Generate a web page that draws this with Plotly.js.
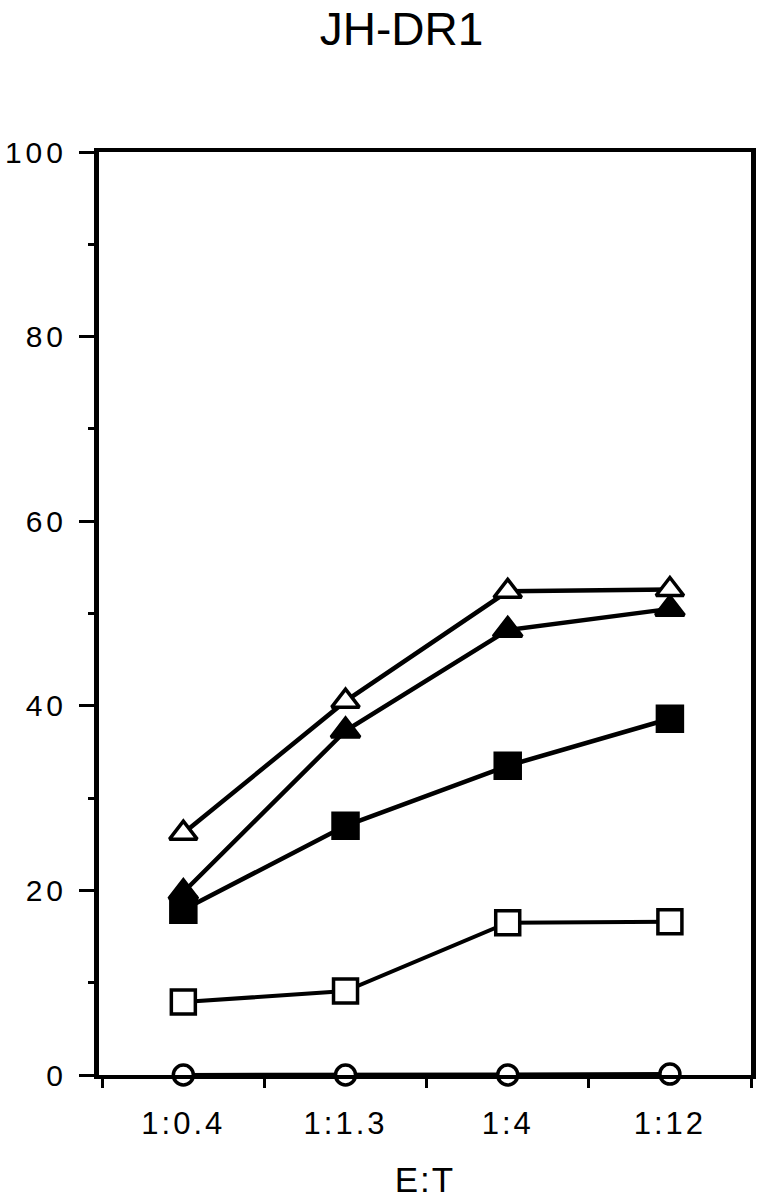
<!DOCTYPE html>
<html>
<head>
<meta charset="utf-8">
<script src="https://cdn.plot.ly/plotly-3.0.1.min.js"></script>
<style>
html,body{margin:0;padding:0;background:#fff;}
#chart{width:759px;height:1199px;}
#chart .xtick text{letter-spacing:3px;}
#chart .ytick text{letter-spacing:4px;}
#chart .g-xtitle text{letter-spacing:2px;}
</style>
</head>
<body>
<div id="chart"></div>
<script>
var categories = ["1:0.4", "1:1.3", "1:4", "1:12"];
var openCircle = [0.0, 0.0, 0.0, 0.1];
var openSquare = [7.9, 9.1, 16.5, 16.6];
var filledSquare = [17.9, 27.0, 33.5, 38.6];
var filledTriangle = [19.8, 37.3, 48.2, 50.5];
var openTriangle = [26.2, 40.5, 52.4, 52.6];
var yTickVals = [0, 20, 40, 60, 80, 100];

function series(y, symbol, fill, size, lw) {
  return {
    x: categories, y: y, type: "scatter", mode: "lines+markers",
    cliponaxis: false,
    line: {color: "#000", width: lw},
    marker: {symbol: symbol, size: size, color: fill, line: {color: "#000", width: 3.5}},
    showlegend: false, hoverinfo: "skip"
  };
}

var data = [
  series(openCircle, "circle", "#fff", 20, 4),
  series(openSquare, "square", "#fff", 24, 4),
  series(filledSquare, "square", "#000", 25, 4.5),
  series(filledTriangle, "triangle-up", "#000", 25, 4.5),
  series(openTriangle, "triangle-up", "#fff", 24, 4.5)
];

var layout = {
  width: 759, height: 1199,
  margin: {l: 99, r: 8, t: 152, b: 124},
  paper_bgcolor: "#fff", plot_bgcolor: "#fff",
  font: {family: "Liberation Sans, Arial, sans-serif", color: "#000"},
  title: {text: "JH-DR1", font: {size: 46, color: "#000"}, x: 0.529, xanchor: "center", y: 0.976, yanchor: "middle"},
  xaxis: {
    type: "category", range: [-0.52, 3.5],
    tickson: "boundaries", ticks: "outside", ticklen: 9, tickwidth: 3, tickcolor: "#000",
    showline: true, linewidth: 4, linecolor: "#000", mirror: true,
    showgrid: false, zeroline: false,
    tickfont: {size: 31}, ticklabelstandoff: 18,
    title: {text: "E:T", font: {size: 35}, standoff: 28}
  },
  yaxis: {
    range: [0, 100], tickvals: yTickVals, ticktext: yTickVals.map(String),
    ticks: "outside", ticklen: 15, tickwidth: 3, tickcolor: "#000",
    minor: {tickvals: [10, 30, 50, 70, 90], ticks: "outside", ticklen: 6, tickwidth: 3, tickcolor: "#000", showgrid: false},
    showline: true, linewidth: 5, linecolor: "#000", mirror: true,
    showgrid: false, zeroline: false,
    tickfont: {size: 30}, ticklabelstandoff: 6
  }
};

Plotly.newPlot("chart", data, layout, {staticPlot: true});
</script>
</body>
</html>
